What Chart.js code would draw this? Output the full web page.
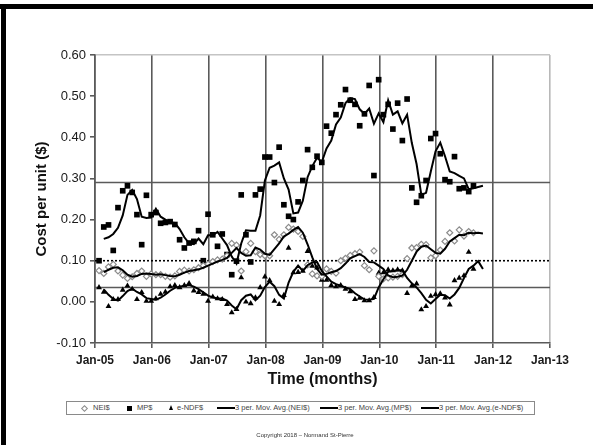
<!DOCTYPE html>
<html>
<head>
<meta charset="utf-8">
<script src="https://cdn.jsdelivr.net/npm/chart.js@4.4.1/dist/chart.umd.min.js"></script>
<style>
  html, body { margin: 0; padding: 0; background: #fff; }
  #wrap { position: relative; width: 593px; height: 445px; overflow: hidden; background: #fff;
          font-family: 'Liberation Sans', Arial, sans-serif; }
  #chart { position: absolute; left: 0; top: 0; }
  .frame { position: absolute; background: #000; }
  #legend { position: absolute; left: 66px; top: 401px; width: 467px; height: 12px;
            border: 1px solid #8a8a8a; background: #fff; }
  .lg { position: absolute; top: 0; height: 12px; line-height: 12px; font-size: 7.5px; color: #444; white-space: nowrap; }
  .mk { position: absolute; }
  #copy { position: absolute; left: 0; width: 610px; top: 432px; text-align: center;
          font-size: 6px; color: #333; }
</style>
</head>
<body>
<div id="wrap">
  <canvas id="chart" width="593" height="445"></canvas>
  <div class="frame" style="left:0;top:4px;width:593px;height:5px"></div>
  <div class="frame" style="left:1px;top:4px;width:5px;height:441px"></div>
  <div id="legend"></div>
  <div id="copy">Copyright 2018 – Normand St-Pierre</div>
</div>
<script>
// axis labels
const yearLabels = ['Jan-05', 'Jan-06', 'Jan-07', 'Jan-08', 'Jan-09', 'Jan-10', 'Jan-11', 'Jan-12', 'Jan-13'];
const yTicks = [-0.1, 0, 0.1, 0.2, 0.3, 0.4, 0.5, 0.6];

// monthly costs, first point just after Jan-05
const firstMonth = 0.85;
const neiCost = [0.076,0.069,0.085,0.091,0.075,0.065,0.057,0.061,0.069,0.075,
  0.062,0.068,0.066,0.066,0.062,0.060,0.063,0.074,0.077,0.075,
  0.078,0.083,0.088,0.092,0.098,0.102,0.104,0.112,0.142,0.138,
  0.075,0.122,0.142,0.122,0.115,0.112,0.112,0.163,0.152,0.163,
  0.181,0.177,0.171,0.159,0.090,0.068,0.063,0.062,0.080,0.074,
  0.070,0.100,0.106,0.113,0.117,0.121,0.088,0.078,0.124,0.062,
  0.056,0.058,0.060,0.062,0.066,0.105,0.131,0.132,0.140,0.139,
  0.107,0.112,0.126,0.147,0.168,0.148,0.175,0.160,0.171,0.168];
const mpCost = [0.100,0.182,0.187,0.125,0.229,0.270,0.282,0.266,0.212,0.139,
  0.259,0.212,0.217,0.191,0.193,0.195,0.188,0.151,0.131,0.143,
  0.147,0.173,0.100,0.213,0.163,0.135,0.165,0.115,0.066,0.099,
  0.260,0.163,0.097,0.260,0.274,0.352,0.352,0.290,0.376,0.236,
  0.208,0.200,0.243,0.295,0.370,0.327,0.354,0.339,0.427,0.410,
  0.455,0.479,0.516,0.490,0.480,0.428,0.457,0.526,0.307,0.540,
  0.455,0.480,0.420,0.483,0.392,0.493,0.277,0.242,0.258,0.295,
  0.397,0.409,0.360,0.297,0.292,0.353,0.275,0.277,0.268,0.282];
const ndfCost = [0.035,0.024,-0.011,0.006,0.006,0.029,0.039,0.031,0.006,0.023,
  0.002,0.002,0.008,0.019,0.024,0.037,0.040,0.035,0.040,0.045,
  0.027,0.023,0.019,0.002,0.012,0.008,0.006,-0.006,-0.026,-0.018,
  0.059,0.000,-0.004,0.010,0.035,0.061,0.052,0.002,-0.006,0.016,
  0.131,0.071,0.072,0.075,0.123,0.087,0.083,0.053,0.053,0.040,
  0.037,0.040,0.031,0.025,0.006,0.009,0.003,0.003,0.011,0.070,
  0.071,0.078,0.076,0.078,0.076,0.021,0.039,0.044,-0.019,-0.011,
  0.014,0.018,0.020,0.010,-0.007,0.052,0.058,0.064,0.121,0.080];

// 3 per. moving average lines (start at 2nd month)
const avgStart = 1;
const neiAvg = [0.072,0.078,0.083,0.084,0.077,0.066,0.061,0.063,0.068,
  0.069,0.068,0.066,0.067,0.065,0.063,0.062,0.066,0.071,0.075,
  0.077,0.079,0.083,0.088,0.093,0.098,0.102,0.107,0.119,0.131,
  0.119,0.112,0.113,0.132,0.127,0.117,0.114,0.128,0.142,0.159,
  0.166,0.175,0.182,0.168,0.140,0.108,0.080,0.066,0.068,0.072,
  0.075,0.082,0.093,0.106,0.111,0.116,0.109,0.097,0.096,0.088,
  0.080,0.064,0.060,0.061,0.064,0.078,0.100,0.122,0.134,0.137,
  0.128,0.119,0.117,0.129,0.147,0.155,0.163,0.162,0.168,0.167,
  0.168,0.166];
const mpAvg = [0.153,0.157,0.165,0.180,0.210,0.260,0.272,0.250,0.207,
  0.204,0.205,0.226,0.207,0.200,0.193,0.192,0.177,0.157,0.142,
  0.140,0.154,0.140,0.162,0.162,0.170,0.154,0.138,0.110,0.093,
  0.142,0.174,0.173,0.173,0.210,0.295,0.326,0.331,0.339,0.300,
  0.273,0.215,0.217,0.246,0.303,0.330,0.350,0.340,0.373,0.392,
  0.431,0.448,0.483,0.495,0.493,0.468,0.457,0.470,0.433,0.458,
  0.437,0.490,0.455,0.463,0.434,0.455,0.386,0.335,0.260,0.265,
  0.317,0.366,0.387,0.354,0.317,0.313,0.306,0.300,0.274,0.276,
  0.279,0.282];
const ndfAvg = [0.030,0.017,0.007,0.003,0.014,0.026,0.032,0.024,0.018,
  0.009,0.007,0.005,0.010,0.018,0.027,0.034,0.037,0.039,0.041,
  0.037,0.031,0.023,0.015,0.011,0.008,0.008,0.003,-0.009,-0.018,
  0.004,0.015,0.018,0.004,0.015,0.036,0.049,0.038,0.017,0.008,
  0.047,0.073,0.088,0.075,0.089,0.096,0.097,0.075,0.062,0.049,
  0.043,0.039,0.035,0.031,0.021,0.013,0.006,0.005,0.007,0.035,
  0.055,0.073,0.075,0.077,0.077,0.058,0.045,0.035,0.021,0.005,
  -0.004,0.007,0.017,0.016,0.008,0.018,0.034,0.058,0.080,0.088,
  0.099,0.080];

// horizontal reference lines
const refSolid = [0.29, 0.035];
const refDotted = [0.10];

const font = "'Liberation Sans', Arial, sans-serif";
const lastMonth = (yearLabels.length - 1) * 12;

function pts(values, start) {
  return values.map((v, i) => ({ x: start + i, y: v }));
}
function hline(v) {
  return [{ x: 0, y: v }, { x: lastMonth, y: v }];
}

const datasets = [
  { label: '3 per. Mov. Avg.(NEI$)', data: pts(neiAvg, firstMonth + avgStart) },
  { label: '3 per. Mov. Avg.(MP$)', data: pts(mpAvg, firstMonth + avgStart) },
  { label: '3 per. Mov. Avg.(e-NDF$)', data: pts(ndfAvg, firstMonth + avgStart) }
].map(d => Object.assign(d, {
  borderColor: '#000', borderWidth: 2, pointRadius: 0, tension: 0, order: 0
}));

datasets.push(
  { label: 'NEI$', data: pts(neiCost, firstMonth), showLine: false, pointStyle: 'rectRot',
    pointRadius: 3, borderColor: '#8c8c8c', backgroundColor: '#fff', pointBorderWidth: 1.2, order: 1 },
  { label: 'MP$', data: pts(mpCost, firstMonth), showLine: false, pointStyle: 'rect',
    pointRadius: 4, borderColor: '#000', backgroundColor: '#000', pointBorderWidth: 0, order: 1 },
  { label: 'e-NDF$', data: pts(ndfCost, firstMonth), showLine: false, pointStyle: 'triangle',
    pointRadius: 3.4, borderColor: '#000', backgroundColor: '#000', pointBorderWidth: 0, order: 1 }
);

refSolid.forEach(v => datasets.push({ label: 'ref', data: hline(v), borderColor: '#5a5a5a',
  borderWidth: 1.6, pointRadius: 0, order: 3 }));
refDotted.forEach(v => datasets.push({ label: 'ref', data: hline(v), borderColor: '#000',
  borderWidth: 1.6, borderDash: [2, 2], pointRadius: 0, order: 3 }));

new Chart(document.getElementById('chart'), {
  type: 'line',
  data: { datasets },
  options: {
    responsive: false,
    animation: false,
    layout: { padding: { left: 0, top: 55, right: 43, bottom: 52 } },
    plugins: { legend: { display: false }, tooltip: { enabled: false } },
    scales: {
      x: {
        type: 'linear', min: 0, max: lastMonth,
        afterBuildTicks: s => { s.ticks = yearLabels.map((_, i) => ({ value: i * 12 })); },
        afterFit: s => { s.height = 50; },
        ticks: {
          autoSkip: false, maxRotation: 0, padding: 5, color: '#1a1a1a',
          font: { family: font, size: 12, weight: 'bold' },
          callback: v => yearLabels[Math.round(v / 12)]
        },
        grid: {
          color: c => (c.index === yearLabels.length - 1 ? '#b8b8b8' : '#5a5a5a'),
          lineWidth: 1.6, tickColor: '#5a5a5a', tickLength: 5
        },
        border: { color: '#5a5a5a', width: 1.6 },
        title: { display: true, text: 'Time (months)', color: '#111',
          font: { family: font, size: 16, weight: 'bold' }, padding: { top: 0, bottom: 4 } }
      },
      y: {
        min: -0.1, max: 0.6,
        afterBuildTicks: s => { s.ticks = yTicks.map(v => ({ value: v })); },
        afterFit: s => { s.width = 95; },
        ticks: { padding: 4, color: '#1a1a1a', font: { family: font, size: 13 },
          callback: v => v.toFixed(2) },
        grid: {
          color: c => (c.tick && Math.abs(c.tick.value - 0.6) < 1e-6 ? '#c4c4c4' : 'rgba(0,0,0,0)'),
          lineWidth: 1.6, tickColor: '#5a5a5a', tickLength: 5
        },
        border: { color: '#5a5a5a', width: 1.6 },
        title: { display: true, text: 'Cost per unit ($)', color: '#111',
          font: { family: font, size: 15, weight: 'bold' }, padding: { top: 33, bottom: 0 } }
      }
    }
  }
});

// legend (boxed, single row)
const legendItems = [
  { x: 84, kind: 'diamond', text: 'NEI$', tx: 93 },
  { x: 129, kind: 'square', text: 'MP$', tx: 137 },
  { x: 171, kind: 'triangle', text: 'e-NDF$', tx: 177 },
  { x: 226, kind: 'line', text: '3 per. Mov. Avg.(NEI$)', tx: 235 },
  { x: 329, kind: 'line', text: '3 per. Mov. Avg.(MP$)', tx: 338 },
  { x: 430, kind: 'line', text: '3 per. Mov. Avg.(e-NDF$)', tx: 439 }
];
const legend = document.getElementById('legend');
const ox = 67, cy = 6;
legendItems.forEach(it => {
  const m = document.createElement('div');
  m.className = 'mk';
  const cx = it.x - ox;
  if (it.kind === 'diamond') {
    Object.assign(m.style, { left: (cx - 2) + 'px', top: (cy - 2) + 'px', width: '3px', height: '3px',
      border: '1px solid #8c8c8c', transform: 'rotate(45deg)' });
  } else if (it.kind === 'square') {
    Object.assign(m.style, { left: (cx - 2.5) + 'px', top: (cy - 2.5) + 'px', width: '5px', height: '5px',
      background: '#000' });
  } else if (it.kind === 'triangle') {
    Object.assign(m.style, { left: (cx - 2.5) + 'px', top: (cy - 3) + 'px', width: 0, height: 0,
      borderLeft: '2.5px solid transparent', borderRight: '2.5px solid transparent',
      borderBottom: '5px solid #000' });
  } else {
    Object.assign(m.style, { left: (cx - 9) + 'px', top: (cy - 1) + 'px', width: '18px', height: '1.6px',
      background: '#000' });
  }
  legend.appendChild(m);
  const t = document.createElement('div');
  t.className = 'lg';
  t.style.left = (it.tx - ox) + 'px';
  t.textContent = it.text;
  legend.appendChild(t);
});
</script>
</body>
</html>
